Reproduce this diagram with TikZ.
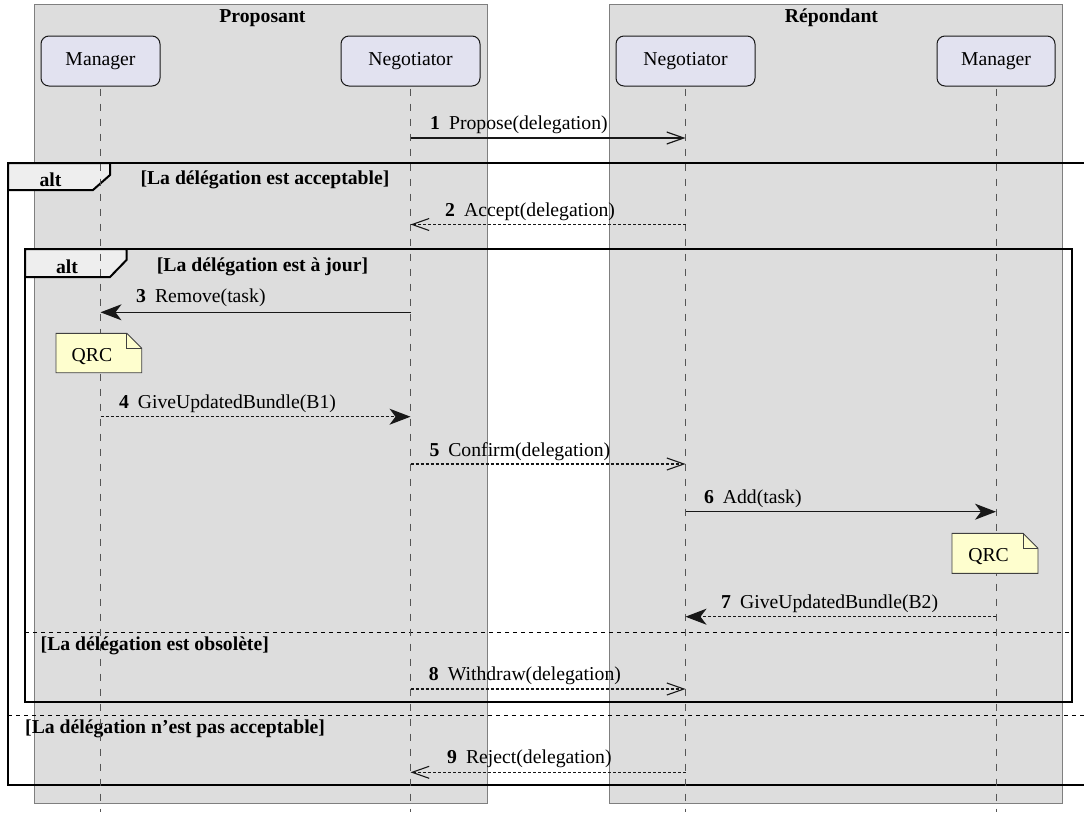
\documentclass[tikz,border=0pt]{standalone}
\usepackage{fontspec}
\setmainfont{Liberation Serif}
\usetikzlibrary{arrows.meta}
\definecolor{boxfill}{HTML}{DDDDDD}
\definecolor{boxdraw}{HTML}{7F7F7F}
\definecolor{partfill}{HTML}{E2E2F0}
\definecolor{partdraw}{HTML}{181818}
\definecolor{notefill}{HTML}{FEFECE}
\definecolor{notedraw}{HTML}{404040}
\definecolor{tabfill}{HTML}{EEEEEE}
\definecolor{lifecol}{HTML}{555555}
\definecolor{msgcol}{HTML}{181818}
\newcommand\dfont{\fontsize{19.7}{23}\selectfont}
\begin{document}
\begin{tikzpicture}[x=1pt,y=-1pt,
  pbox/.style={fill=boxfill,draw=boxdraw,line width=1pt},
  boxtitle/.style={font=\dfont\bfseries,inner sep=0pt},
  participant/.style={draw=partdraw,fill=partfill,rounded corners=8pt,line width=1pt,
    minimum height=50pt,inner sep=0pt,font=\dfont},
  lifeline/.style={draw=lifecol,line width=1pt,dash pattern=on 7pt off 8pt},
  syncmsg/.style={draw=msgcol,line width=1.3pt,-{Stealth[length=21pt,width=16pt,inset=6pt]}},
  asyncmsg/.style={draw=msgcol,line width=1.2pt,-{Straight Barb[length=17pt,width=12pt]}},
  replyline/.style={line width=1.1pt,dash pattern=on 3pt off 2pt},
  msglabel/.style={anchor=west,inner sep=0pt,font=\dfont},
  frameline/.style={draw=black,line width=2.5pt},
  tabshape/.style={fill=tabfill,draw=black,line width=2pt},
  guard/.style={font=\dfont\bfseries,inner sep=0pt},
  elseline/.style={draw=black,line width=1.3pt,dash pattern=on 4pt off 4pt},
  notebody/.style={fill=notefill,draw=notedraw,line width=0.9pt},
  notetext/.style={font=\dfont,inner sep=0pt}]
\useasboundingbox (0,0) rectangle (1084,812);

% participant groups
\draw[pbox] (34,4) rectangle (487,803);
\draw[pbox] (609,4) rectangle (1062,803);
\node[boxtitle] (tP) at (262.5,18) {Proposant};
\node[boxtitle] (tR) at (831.5,18) {Répondant};

% frames
\draw[frameline] (1084,163) -- (8,163) -- (8,785) -- (1084,785);
\draw[tabshape] (8,163) -- (110,163) -- (110,175) -- (93,190) -- (8,190) -- cycle;
\node[guard] (alt1) at (50.5,180) {alt};
\node[guard] (g1) at (265,180) {[La délégation est acceptable]};
\draw[elseline] (8,715.5) -- (1084,715.5);
\node[guard,anchor=west] (g4) at (25,728.5) {[La délégation n’est pas acceptable]};

\draw[frameline] (25,249) rectangle (1072,702);
\draw[tabshape] (25,249) -- (126.5,249) -- (126.5,260) -- (110,277) -- (25,277) -- cycle;
\node[guard] (alt2) at (67,266.5) {alt};
\node[guard] (g2) at (262.5,266.5) {[La délégation est à jour]};
\draw[elseline] (25,632.5) -- (1072,632.5);
\node[guard,anchor=west] (g3) at (40.5,646) {[La délégation est obsolète]};

% participants
\node[participant,minimum width=119pt] (mL) at (100.5,61) {Manager};
\node[participant,minimum width=139pt] (nL) at (410.5,61) {Negotiator};
\node[participant,minimum width=139pt] (nR) at (685.5,61) {Negotiator};
\node[participant,minimum width=118pt] (mR) at (996,61) {Manager};
\coordinate (bot) at (0,812);

% lifelines
\draw[lifeline] ([yshift=-2pt]mL.south) -- (mL.south |- bot);
\draw[lifeline] ([yshift=-2pt]nL.south) -- (nL.south |- bot);
\draw[lifeline] ([yshift=-2pt]nR.south) -- (nR.south |- bot);
\draw[lifeline] ([yshift=-2pt]mR.south) -- (mR.south |- bot);

% messages
\draw[asyncmsg] (nL |- 0,138) -- (nR |- 0,138);
\node[msglabel] (l1) at (430,125) {\textbf{1}\hspace{9pt}Propose(delegation)};

\draw[asyncmsg,replyline] (nR |- 0,224.5) -- (nL |- 0,224.5);
\node[msglabel] (l2) at (445,211.5) {\textbf{2}\hspace{9pt}Accept(delegation)};

\draw[syncmsg] (nL |- 0,312.3) -- (mL |- 0,312.3);
\node[msglabel] (l3) at (136,298) {\textbf{3}\hspace{9pt}Remove(task)};

\draw[syncmsg,replyline] (mL |- 0,416.7) -- (nL |- 0,416.7);
\node[msglabel] (l4) at (118.8,404) {\textbf{4}\hspace{9pt}GiveUpdatedBundle(B1)};

\draw[asyncmsg,replyline] (nL |- 0,464) -- (nR |- 0,464);
\node[msglabel] (l5) at (429.3,451.5) {\textbf{5}\hspace{9pt}Confirm(delegation)};

\draw[syncmsg] (nR |- 0,511.7) -- (mR |- 0,511.7);
\node[msglabel] (l6) at (703.8,499) {\textbf{6}\hspace{9pt}Add(task)};

\draw[syncmsg,replyline] (mR |- 0,616.7) -- (nR |- 0,616.7);
\node[msglabel] (l7) at (721,604) {\textbf{7}\hspace{9pt}GiveUpdatedBundle(B2)};

\draw[asyncmsg,replyline] (nL |- 0,689) -- (nR |- 0,689);
\node[msglabel] (l8) at (428.7,676) {\textbf{8}\hspace{9pt}Withdraw(delegation)};

\draw[asyncmsg,replyline] (nR |- 0,772.3) -- (nL |- 0,772.3);
\node[msglabel] (l9) at (447,759) {\textbf{9}\hspace{9pt}Reject(delegation)};

% notes
\draw[notebody] (56,333.3) -- (126.7,333.3) -- (141.7,348.3) -- (141.7,372.7) -- (56,372.7) -- cycle;
\draw[notebody,fill=none] (126.7,333.3) -- (126.7,348.3) -- (141.7,348.3);
\node[notetext] (q1) at (92,356.5) {QRC};

\draw[notebody] (952,533.3) -- (1023,533.3) -- (1038,548.3) -- (1038,573.3) -- (952,573.3) -- cycle;
\draw[notebody,fill=none] (1023,533.3) -- (1023,548.3) -- (1038,548.3);
\node[notetext] (q2) at (988.6,556.5) {QRC};
\end{tikzpicture}
\end{document}
